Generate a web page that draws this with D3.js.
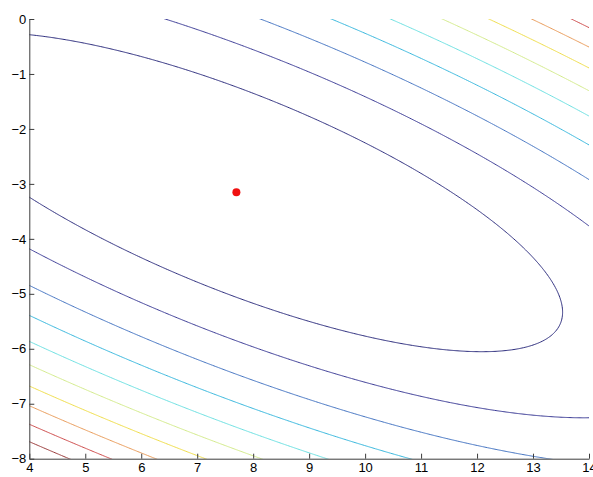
<!DOCTYPE html>
<html>
<head>
<meta charset="utf-8">
<script src="https://cdn.jsdelivr.net/npm/d3@7"></script>
<style>
  body { margin: 0; background: #fff; }
  svg { display: block; }
  .axis text { font-family: "Liberation Sans", Arial, sans-serif; font-size: 13px; fill: #000; }
  .axis path, .axis line { stroke: #3c3c3c; }
</style>
</head>
<body>
<div id="chartEl"></div>
<script>
// minimum of the bowl and the quadratic's shape
const center = [7.7, -3.15];
const quadCoef = [1.0, 1.51, 4.03]; // a*u^2 + 2*b*u*v + c*v^2
const levels = [14.75, 29.5, 44.25, 59, 73.75, 88.5, 103.25, 118, 132.75, 147.5];
const levelColors = ['#2b2b7c', '#393994', '#4272c0', '#36b6dc', '#6adfe0',
  '#d2ea8a', '#eedc48', '#e89a58', '#cc4848', '#983838'];
const xTicks = [4, 5, 6, 7, 8, 9, 10, 11, 12, 13, 14];
const yTicks = [-8, -7, -6, -5, -4, -3, -2, -1, 0];

const width = 593;
const height = 477;
const margin = {top: 19, right: 4, bottom: 18.3, left: 29.3};

const x = d3.scaleLinear().domain([4, 14]).range([margin.left, width - margin.right]);
const y = d3.scaleLinear().domain([-8, 0]).range([height - margin.bottom, margin.top]);

const svg = d3.select('#chartEl').append('svg')
  .attr('width', width)
  .attr('height', height);

svg.append('defs').append('clipPath')
  .attr('id', 'plotClip')
  .append('rect')
  .attr('x', x(4)).attr('y', y(0))
  .attr('width', x(14) - x(4)).attr('height', y(-8) - y(0));

// sample grid a bit wider than the axes so the outer edges get clipped away
const gx0 = 3, gx1 = 15, gy0 = -9, gy1 = 1, step = 0.02;
const nx = Math.round((gx1 - gx0) / step) + 1;
const ny = Math.round((gy1 - gy0) / step) + 1;
const values = new Float64Array(nx * ny);
for (let j = 0; j < ny; ++j) {
  for (let i = 0; i < nx; ++i) {
    const u = gx0 + i * step - center[0];
    const v = gy0 + j * step - center[1];
    values[j * nx + i] = quadCoef[0] * u * u + 2 * quadCoef[1] * u * v + quadCoef[2] * v * v;
  }
}

const contours = d3.contours()
  .size([nx, ny])
  .thresholds(levels)(values);

const path = d3.geoPath(d3.geoTransform({
  point: function (px, py) {
    this.stream.point(x(gx0 + (px - 0.5) * step), y(gy0 + (py - 0.5) * step));
  }
}));

svg.append('g')
  .attr('clip-path', 'url(#plotClip)')
  .selectAll('path')
  .data(contours)
  .enter().append('path')
  .attr('d', path)
  .attr('fill', 'none')
  .attr('stroke', (d, i) => levelColors[i])
  .attr('stroke-width', 1);

svg.append('circle')
  .attr('cx', x(center[0]))
  .attr('cy', y(center[1]))
  .attr('r', 4)
  .attr('fill', '#f01010');

svg.append('g')
  .attr('class', 'axis')
  .attr('transform', 'translate(' + x(4) + ',0)')
  .call(d3.axisLeft(y).tickValues(yTicks).tickFormat(d3.format('d'))
    .tickSizeInner(-5).tickSizeOuter(0).tickPadding(3));

svg.append('g')
  .attr('class', 'axis')
  .attr('transform', 'translate(0,' + y(-8) + ')')
  .call(d3.axisBottom(x).tickValues(xTicks).tickFormat(d3.format('d'))
    .tickSizeInner(-5).tickSizeOuter(0).tickPadding(4));
</script>
</body>
</html>
